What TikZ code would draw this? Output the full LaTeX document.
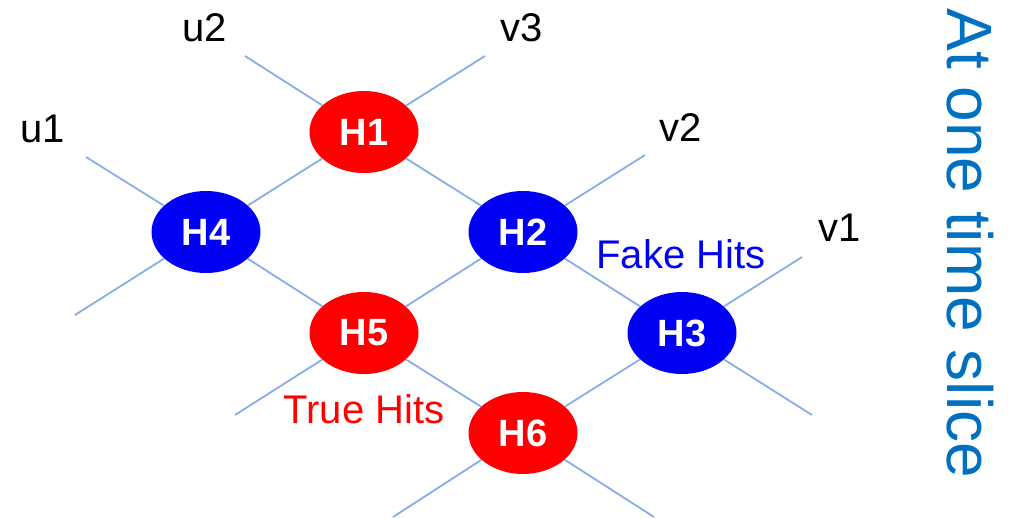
\documentclass[tikz,border=0pt]{standalone}
\usepackage{fontspec}
\setmainfont{Liberation Sans}
\usetikzlibrary{shapes.geometric}
\definecolor{linkblue}{RGB}{135,172,232}
\definecolor{truered}{RGB}{255,0,0}
\definecolor{fakeblue}{RGB}{0,0,245}
\definecolor{titleblue}{RGB}{0,112,192}
\begin{document}
\begin{tikzpicture}[x=0.5pt,y=-0.5pt,
  hit/.style={ellipse,minimum width=54.5pt,minimum height=41pt,inner sep=0pt,
    text=white,font=\fontsize{19}{20}\selectfont\bfseries},
  truehit/.style={hit,fill=truered},
  fakehit/.style={hit,fill=fakeblue},
  link/.style={draw=linkblue,line width=0.9pt},
  lbl/.style={anchor=base,inner sep=0pt,font=\fontsize{20}{22}\selectfont}]
\useasboundingbox (0,0) rectangle (1018,519);
% hits
\node[truehit] (H1) at (364,132) {H1};
\node[fakehit] (H4) at (206,232) {H4};
\node[fakehit] (H2) at (523,232) {H2};
\node[truehit] (H5) at (364,333) {H5};
\node[fakehit] (H3) at (682,333) {H3};
\node[truehit] (H6) at (523,433) {H6};
% free ends
\coordinate (a1) at (245,56);
\coordinate (a2) at (812,415);
\coordinate (b1) at (86,157);
\coordinate (b2) at (654,517);
\coordinate (c1) at (75,315);
\coordinate (c2) at (485,56);
\coordinate (d1) at (235,415);
\coordinate (d2) at (645,155);
\coordinate (e1) at (393,517);
\coordinate (e2) at (802,257);
% links
\draw[link] (a1) -- (H1); \draw[link] (H1) -- (H2); \draw[link] (H2) -- (H3); \draw[link] (H3) -- (a2);
\draw[link] (b1) -- (H4); \draw[link] (H4) -- (H5); \draw[link] (H5) -- (H6); \draw[link] (H6) -- (b2);
\draw[link] (c1) -- (H4); \draw[link] (H4) -- (H1); \draw[link] (H1) -- (c2);
\draw[link] (d1) -- (H5); \draw[link] (H5) -- (H2); \draw[link] (H2) -- (d2);
\draw[link] (e1) -- (H6); \draw[link] (H6) -- (H3); \draw[link] (H3) -- (e2);
% labels
\node[lbl] (u2) at (205,42) {u2};
\node[lbl] (v3) at (522,42) {v3};
\node[lbl] (u1) at (43,142) {u1};
\node[lbl] (v2) at (681,141) {v2};
\node[lbl] (v1) at (840,242) {v1};
\node[lbl,text=fakeblue] (fake) at (681,268) {Fake Hits};
\node[lbl,text=truered] (true) at (364,423) {True Hits};
\node[anchor=base west,inner sep=0pt,rotate=-90,text=titleblue,
  font=\fontsize{32}{34}\selectfont] (title) at (947,8) {At one time slice};
\end{tikzpicture}
\end{document}
